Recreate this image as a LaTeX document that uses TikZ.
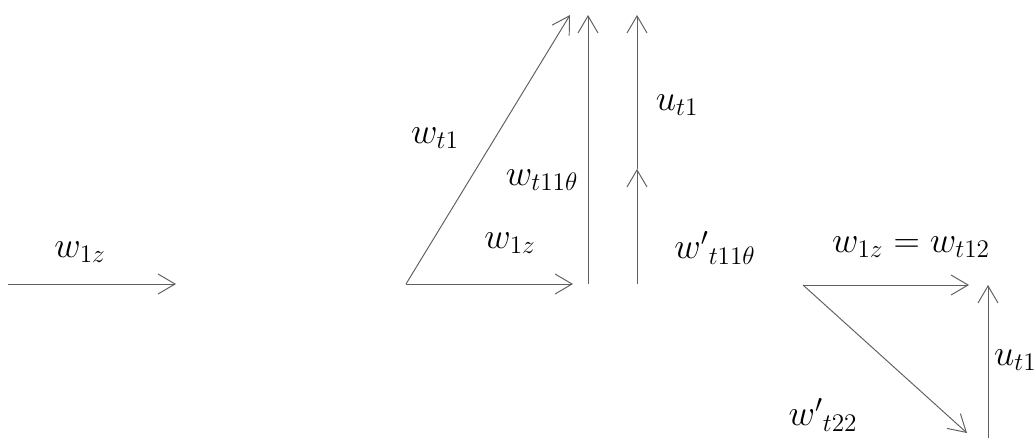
\documentclass[tikz,border=0pt]{standalone}
\usepackage{tikz}
\usetikzlibrary{positioning, calc, arrows.meta}
\usepackage{xcolor}
\definecolor{vecgray}{RGB}{95,95,95}

\begin{document}
\begin{tikzpicture}[x=0.02cm, y=-0.02cm, font=\fontsize{20}{23}\selectfont,
  vec/.style={draw=vecgray, line width=0.55pt,
    -{Straight Barb[length=0.34cm, width=0.4cm]}},
  lbl/.style={inner sep=1pt}]
  \useasboundingbox (0,0) rectangle (1034,437);

  % LEFT: lone vector
  \coordinate (a0) at (8,284);
  \coordinate (a1) at (176,284);
  \draw[vec] (a0) -- (a1);
  \node[lbl] (la) at (80,252) {$w_{1z}$};

  % MIDDLE: triangle and the split vertical
  \coordinate (b0) at (406,284);
  \coordinate (b1) at (573,284);
  \coordinate (b2) at (570,15);
  \draw[vec] (b0) -- (b1);
  \draw[vec] (b0) -- (b2);

  \coordinate (c0) at (588,284);
  \coordinate (c1) at (588,15);
  \draw[vec] (c0) -- (c1);

  \coordinate (d0) at (637,284);
  \coordinate (d1) at (637,169);
  \coordinate (d2) at (637,15);
  \draw[vec] (d0) -- (d1);
  \draw[vec] (d1) -- (d2);

  \node[lbl] (lb2) at (435,138) {$w_{t1}$};
  \node[lbl] (lc)  at (542,180) {$w_{t11\theta}$};
  \node[lbl] (lb1) at (510,243) {$w_{1z}$};
  \node[lbl] (ld2) at (677,105) {$u_{t1}$};
  \node[lbl] (ld1) at (715,248) {${w'}_{t11\theta}$};

  % RIGHT: second triangle
  \coordinate (e0) at (803,285);
  \coordinate (e1) at (969,285);
  \coordinate (e2) at (967,433);
  \draw[vec] (e0) -- (e1);
  \draw[vec] (e0) -- (e2);

  \coordinate (f0) at (988,450);
  \coordinate (f1) at (988,285);
  \draw[vec] (f0) -- (f1);

  \node[lbl] (le1) at (911,247) {$w_{1z}=w_{t12}$};
  \node[lbl] (le2) at (823,415) {${w'}_{t22}$};
  \node[lbl, anchor=west] (lf) at (992,360) {$u_{t1}$};
\end{tikzpicture}
\end{document}
